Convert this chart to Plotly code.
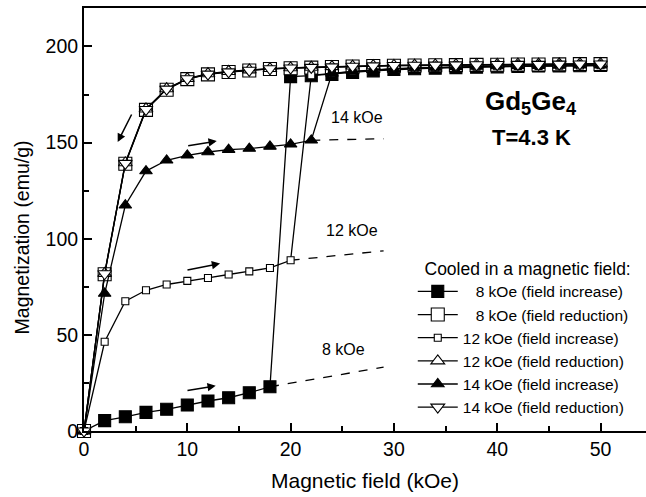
import plotly.graph_objects as go

# ---------------- data ----------------
field_red = [0, 2, 4, 6, 8, 10, 12, 14, 16, 18, 20, 22, 24, 26, 28, 30, 32, 34, 36, 38, 40, 42, 44, 46, 48, 50]

m8_inc_x = [0, 2, 4, 6, 8, 10, 12, 14, 16, 18, 20, 22, 24, 26, 28, 30, 32, 34, 36, 38, 40, 42, 44, 46, 48, 50]
m8_inc_y = [0, 5.4, 7.4, 9.7, 11.3, 13.5, 15.6, 17.3, 19.9, 23.0,
            184.3, 184.8, 185.5, 186.5, 187.3, 188.0, 188.4, 188.7, 189.0, 189.2, 189.4, 189.6, 189.8, 189.9, 190.0, 190.1]
m8_red_y = [0, 81.5, 139.0, 167.0, 177.5, 183.0, 185.5, 186.7, 187.5, 188.3, 188.7, 189.0, 189.3,
            189.6, 189.8, 190.0, 190.1, 190.2, 190.3, 190.4, 190.5, 190.6, 190.6, 190.7, 190.8, 190.8]

m12_inc_x = [0, 2, 4, 6, 8, 10, 12, 14, 16, 18, 20, 22, 24, 26, 28, 30, 32, 34, 36, 38, 40, 42, 44, 46, 48, 50]
m12_inc_y = [0, 46.4, 67.5, 73.2, 76.2, 78.1, 79.6, 81.4, 83.0, 84.8, 88.8,
             185.0, 186.0, 187.0, 187.7, 188.3, 188.7, 189.0, 189.3, 189.5, 189.7, 189.8, 189.9, 190.0, 190.1, 190.2]
m12_red_y = [0, 82.0, 139.5, 167.5, 178.0, 183.3, 185.8, 187.0, 187.8, 188.5, 188.9, 189.2, 189.5,
             189.8, 190.0, 190.2, 190.3, 190.4, 190.5, 190.6, 190.7, 190.8, 190.8, 190.9, 191.0, 191.0]

m14_inc_x = [0, 2, 4, 6, 8, 10, 12, 14, 16, 18, 20, 22, 24, 26, 28, 30, 32, 34, 36, 38, 40, 42, 44, 46, 48, 50]
m14_inc_y = [0, 71.5, 117.4, 135.2, 140.8, 143.4, 145.1, 146.3, 146.9, 148.0, 149.1, 151.2,
             186.0, 187.0, 187.8, 188.4, 188.8, 189.1, 189.4, 189.6, 189.8, 189.9, 190.0, 190.1, 190.2, 190.2]
m14_red_y = [0, 81.8, 139.2, 167.2, 177.8, 183.2, 185.6, 186.8, 187.6, 188.4, 188.8, 189.1, 189.4,
             189.7, 189.9, 190.1, 190.2, 190.3, 190.4, 190.5, 190.6, 190.7, 190.7, 190.8, 190.9, 190.9]

# dashed extrapolations (start = last low-state point, end)
ext8_x, ext8_y = [18, 29], [23.0, 33.2]
ext12_x, ext12_y = [20, 29], [88.8, 93.7]
ext14_x, ext14_y = [22, 29], [151.2, 152.0]

legend_names = [
    "\u2007 8 kOe (field increase)",
    "\u2007 8 kOe (field reduction)",
    "12 kOe (field increase)",
    "12 kOe (field reduction)",
    "14 kOe (field increase)",
    "14 kOe (field reduction)",
]

FONT = "Liberation Sans, Arial, Helvetica, sans-serif"

fig = go.Figure()

def add_dash(x, y):
    fig.add_trace(go.Scatter(x=x, y=y, mode="lines", showlegend=False, hoverinfo="skip",
                             line=dict(color="black", width=1.3, dash="dash")))

add_dash(ext8_x, ext8_y)
add_dash(ext12_x, ext12_y)
add_dash(ext14_x, ext14_y)

series = [
    (m8_inc_x, m8_inc_y, "square", 12, "black"),
    (field_red, m8_red_y, "square", 13, "white"),
    (m12_inc_x, m12_inc_y, "square", 7, "white"),
    (field_red, m12_red_y, "triangle-up", 12, "white"),
    (m14_inc_x, m14_inc_y, "triangle-up", 11, "black"),
    (field_red, m14_red_y, "triangle-down", 12, "white"),
]
for (x, y, sym, sz, fill), name in zip(series, legend_names):
    fig.add_trace(go.Scatter(
        x=x, y=y, mode="lines+markers", name=name, cliponaxis=False,
        line=dict(color="black", width=1.3),
        marker=dict(symbol=sym, size=sz, color=fill, line=dict(color="black", width=1.1)),
    ))

annotations = []
# arrows (tail -> head in data coordinates)
arrows = [((4.68, 165.4), (3.26, 150.3)),
          ((9.94, 148.2), (12.85, 150.8)),
          ((9.87, 83.6), (13.17, 87.1)),
          ((9.87, 20.9), (12.75, 23.5))]
for (tx, ty), (hx, hy) in arrows:
    annotations.append(dict(x=hx, y=hy, ax=tx, ay=ty, xref="x", yref="y", axref="x", ayref="y",
                            text="", showarrow=True, arrowhead=2, arrowsize=1.1, arrowwidth=1.5,
                            arrowcolor="black"))

labels = [("14 kOe", 26.4, 163.3), ("12 kOe", 25.9, 104.4), ("8 kOe", 25.1, 42.6)]
for t, x, y in labels:
    annotations.append(dict(x=x, y=y, xref="x", yref="y", text=t, showarrow=False,
                            font=dict(size=16, color="black", family=FONT)))

annotations.append(dict(x=43.3, y=171, xref="x", yref="y", showarrow=False,
                        text="<b>Gd<sub>5</sub>Ge<sub>4</sub></b>",
                        font=dict(size=26, color="black", family=FONT)))
annotations.append(dict(x=43.3, y=152.6, xref="x", yref="y", showarrow=False,
                        text="<b>T=4.3 K</b>",
                        font=dict(size=22, color="black", family=FONT)))

# axis titles
annotations.append(dict(x=0.5, y=-0.118, xref="paper", yref="paper", showarrow=False,
                        text="Magnetic field (kOe)", yanchor="middle",
                        font=dict(size=21, color="black", family=FONT)))
annotations.append(dict(x=-0.110, y=0.458, xref="paper", yref="paper", showarrow=False,
                        text="Magnetization (emu/g)", textangle=-90, xanchor="center", yanchor="middle",
                        font=dict(size=19.5, color="black", family=FONT)))

fig.update_layout(
    width=646, height=497,
    margin=dict(l=84, r=0, t=8, b=66),
    paper_bgcolor="white", plot_bgcolor="white",
    font=dict(family=FONT, color="black"),
    annotations=annotations,
    legend=dict(x=0.585, y=0.423, xanchor="left", yanchor="top",
                bgcolor="rgba(0,0,0,0)", font=dict(size=15.5, color="black", family=FONT),
                title=dict(text="\u2007Cooled in a magnetic field:", font=dict(size=17.5, family=FONT)),
                itemwidth=40, tracegroupgap=0),
    xaxis=dict(range=[0, 54.4], tickvals=[0, 10, 20, 30, 40, 50], ticks="inside", ticklen=8,
               tickwidth=1.5, tickcolor="black", showline=True, linewidth=2, linecolor="black",
               mirror=True, showgrid=False, zeroline=False, tickfont=dict(size=19.5),
               minor=dict(tickvals=[5, 15, 25, 35, 45], ticks="inside", ticklen=5, tickwidth=1.5,
                          tickcolor="black")),
    yaxis=dict(range=[0, 220], tickvals=[0, 50, 100, 150, 200], ticks="inside", ticklen=8,
               tickwidth=1.5, tickcolor="black", showline=True, linewidth=2, linecolor="black",
               showgrid=False, zeroline=False, tickfont=dict(size=19.5),
               minor=dict(tickvals=[25, 75, 125, 175], ticks="inside", ticklen=5, tickwidth=1.5,
                          tickcolor="black")),
)

fig.write_html(
    "out.html",
    config={"displayModeBar": False},
    post_script=("document.documentElement.style.overflow='hidden';"
                 "document.body.style.margin='0';document.body.style.overflow='hidden';"),
)
